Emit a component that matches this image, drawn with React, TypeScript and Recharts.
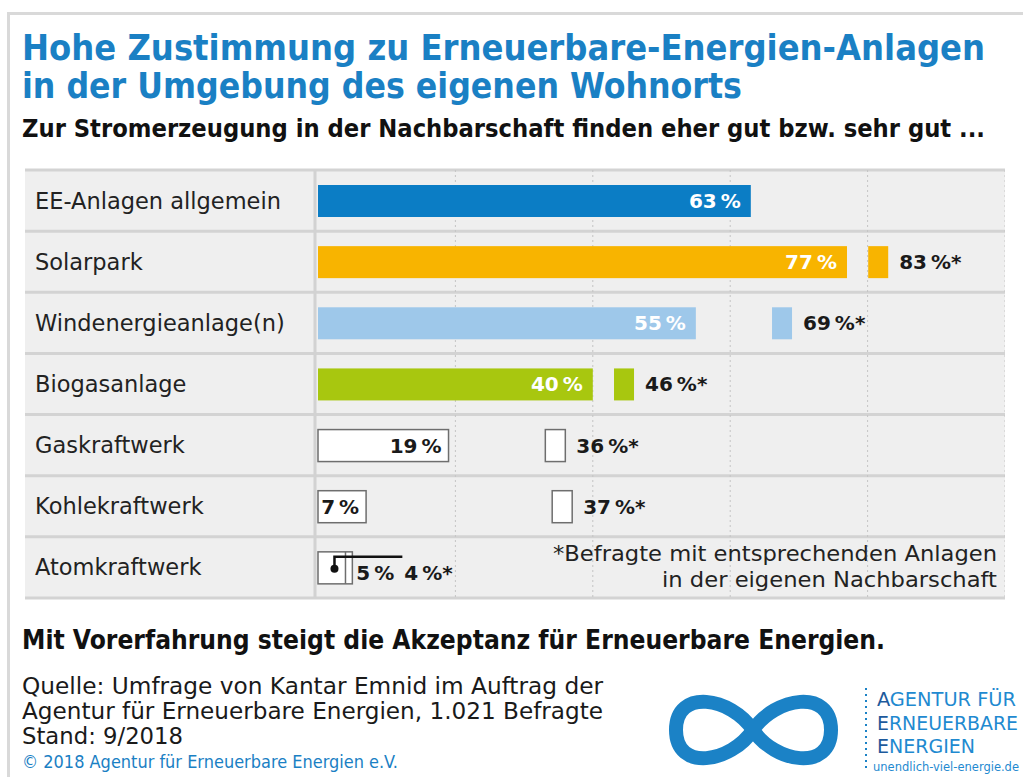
import React from 'react';
import { BarChart, Bar, XAxis, YAxis, CartesianGrid } from 'recharts';

const categories = [
  'EE-Anlagen allgemein',
  'Solarpark',
  'Windenergieanlage(n)',
  'Biogasanlage',
  'Gaskraftwerk',
  'Kohlekraftwerk',
  'Atomkraftwerk',
];
const allRespondents = [63, 77, 55, 40, 19, 7, 5];
const withFacilityNearby: (number | null)[] = [null, 83, 69, 46, 36, 37, 4];
const gridTicks = [20, 40, 60, 80];

const data = categories.map((name, i) => ({
  name,
  all: allRespondents[i],
  nearby: withFacilityNearby[i],
}));

const FILLS: Record<string, string> = {
  'EE-Anlagen allgemein': '#0b7dc5',
  Solarpark: '#f8b400',
  'Windenergieanlage(n)': '#9ec8ea',
  Biogasanlage: '#a8c70f',
};
const OUTLINED = new Set(['Gaskraftwerk', 'Kohlekraftwerk', 'Atomkraftwerk']);
const LEADER_ROW = 'Atomkraftwerk';

const LEFT = 25;
const TOP = 170;
const CHART_W = 980;
const CHART_H = 428;
const AXIS_W = 290;
const rowH = CHART_H / categories.length;

const NUM_FONT = "'DejaVu Sans', sans-serif";
const LABEL_FONT = "'DejaVu Sans', sans-serif";
const COND_FONT = "'Liberation Sans Narrow', 'DejaVu Sans Condensed', 'Roboto Condensed', Roboto, sans-serif";
const BLUE = '#1a80c4';
const SP = '\u2009';

const Tick = (props: any) => {
  const { y, payload } = props;
  return (
    <text x={10} y={y + 8} fontFamily={LABEL_FONT} fontSize={22.5} fill="#222" textAnchor="start">
      {payload.value}
    </text>
  );
};

const MainBar = (props: any) => {
  const { x, y, width, height, payload } = props;
  if (width == null || payload == null) return null;
  const name = payload.name;
  const outlined = OUTLINED.has(name);
  const cy = y + height / 2;
  const label = `${payload.all}${SP}%`;
  const inside = width > 40;
  return (
    <g>
      <rect
        x={x}
        y={y}
        width={width}
        height={height}
        fill={outlined ? '#ffffff' : FILLS[name]}
        stroke={outlined ? '#6e6e6e' : 'none'}
        strokeWidth={outlined ? 1.5 : 0}
      />
      {inside ? (
        <text
          x={x + width - (outlined ? 7 : 10)}
          y={cy + 7}
          textAnchor="end"
          fontFamily={NUM_FONT}
          fontWeight="bold"
          fontSize={20}
          fill={outlined ? '#1a1a1a' : '#ffffff'}
        >
          {label}
        </text>
      ) : (
        <text x={x + width + 4} y={cy + 12} textAnchor="start" fontFamily={NUM_FONT} fontWeight="bold" fontSize={20} fill="#1a1a1a">
          {label}
        </text>
      )}
    </g>
  );
};

const MarkerBar = (props: any) => {
  const { x, y, width, height, payload } = props;
  if (payload == null || payload.nearby == null || width == null) return null;
  const name = payload.name;
  const outlined = OUTLINED.has(name);
  const end = x + width;
  const cy = y + height / 2;
  const label = `${payload.nearby}${SP}%*`;
  if (name === LEADER_ROW) {
    const perUnit = width / payload.nearby;
    const mainEnd = x + perUnit * payload.all;
    const labelX = mainEnd + 52;
    const dotX = end - 11;
    return (
      <g>
        <line x1={end} x2={end} y1={y} y2={y + height} stroke="#6e6e6e" strokeWidth={1.5} />
        <path d={`M${dotX},${cy + 1} V${y + 5} H${labelX - 2}`} stroke="#111" strokeWidth={2.5} fill="none" />
        <circle cx={dotX} cy={cy + 1} r={4} fill="#111" />
        <text x={labelX} y={cy + 12} textAnchor="start" fontFamily={NUM_FONT} fontWeight="bold" fontSize={20} fill="#1a1a1a">
          {label}
        </text>
      </g>
    );
  }
  return (
    <g>
      <rect
        x={end - 20}
        y={y}
        width={20}
        height={height}
        fill={outlined ? '#ffffff' : FILLS[name]}
        stroke={outlined ? '#6e6e6e' : 'none'}
        strokeWidth={outlined ? 1.5 : 0}
      />
      <text x={end + 11} y={cy + 7} textAnchor="start" fontFamily={NUM_FONT} fontWeight="bold" fontSize={20} fill="#1a1a1a">
        {label}
      </text>
    </g>
  );
};

const separators = Array.from({ length: categories.length + 1 }, (_, i) => TOP + i * rowH);

export default function App() {
  return (
    <div style={{ position: 'absolute', left: 0, top: 0, width: 1023, height: 777, background: '#fff', overflow: 'hidden' }}>
      <svg width={1023} height={777} style={{ position: 'absolute', left: 0, top: 0 }}>
        <rect x={7} y={12} width={1016} height={3} fill="#d9d9d9" />
        <rect x={7} y={12} width={3} height={765} fill="#d9d9d9" />
        <rect x={LEFT} y={TOP} width={CHART_W} height={CHART_H} fill="#efefef" />
        {separators.map((sy, i) => (
          <line key={i} x1={LEFT} x2={LEFT + CHART_W} y1={sy} y2={sy} stroke="#d3d3d3" strokeWidth={3} />
        ))}
      </svg>
      <div style={{ position: 'absolute', left: LEFT, top: TOP }}>
        <BarChart
          layout="vertical"
          data={data}
          width={CHART_W}
          height={CHART_H}
          margin={{ top: 0, right: 0, bottom: 0, left: 0 }}
          barSize={32}
          barGap={-32}
        >
          <CartesianGrid horizontal={false} strokeDasharray="2 3" stroke="#c4c4c4" />
          <XAxis type="number" domain={[0, 100]} ticks={gridTicks} padding={{ left: 3, right: 0 }} hide />
          <YAxis
            type="category"
            dataKey="name"
            width={AXIS_W}
            axisLine={{ stroke: '#d2d2d2', strokeWidth: 3 }}
            tickLine={false}
            tick={<Tick />}
          />
          <Bar dataKey="all" shape={<MainBar />} isAnimationActive={false} />
          <Bar dataKey="nearby" shape={<MarkerBar />} isAnimationActive={false} />
        </BarChart>
      </div>
      <svg width={1023} height={777} style={{ position: 'absolute', left: 0, top: 0, pointerEvents: 'none' }}>
        <text x={22} y={60} fontFamily={COND_FONT} fontWeight="bold" fontSize={36} fill={BLUE} textLength={963} lengthAdjust="spacingAndGlyphs">
          Hohe Zustimmung zu Erneuerbare-Energien-Anlagen
        </text>
        <text x={22} y={98} fontFamily={COND_FONT} fontWeight="bold" fontSize={36} fill={BLUE} textLength={720} lengthAdjust="spacingAndGlyphs">
          in der Umgebung des eigenen Wohnorts
        </text>
        <text x={22} y={137} fontFamily={COND_FONT} fontWeight="bold" fontSize={25} fill="#111" textLength={963} lengthAdjust="spacingAndGlyphs">
          Zur Stromerzeugung in der Nachbarschaft finden eher gut bzw. sehr gut ...
        </text>

        <text x={997} y={561} textAnchor="end" fontFamily={LABEL_FONT} fontSize={21.5} fill="#222" textLength={444} lengthAdjust="spacingAndGlyphs">
          *Befragte mit entsprechenden Anlagen
        </text>
        <text x={997} y={587} textAnchor="end" fontFamily={LABEL_FONT} fontSize={21.5} fill="#222" textLength={335} lengthAdjust="spacingAndGlyphs">
          in der eigenen Nachbarschaft
        </text>

        <text x={22} y={649} fontFamily={COND_FONT} fontWeight="bold" fontSize={26} fill="#111" textLength={863} lengthAdjust="spacingAndGlyphs">
          Mit Vorerfahrung steigt die Akzeptanz für Erneuerbare Energien.
        </text>
        <text x={22} y={694} fontFamily={COND_FONT} fontSize={23} fill="#1a1a1a" textLength={581} lengthAdjust="spacingAndGlyphs">
          Quelle: Umfrage von Kantar Emnid im Auftrag der
        </text>
        <text x={22} y={719} fontFamily={COND_FONT} fontSize={23} fill="#1a1a1a" textLength={581} lengthAdjust="spacingAndGlyphs">
          Agentur für Erneuerbare Energien, 1.021 Befragte
        </text>
        <text x={22} y={744} fontFamily={COND_FONT} fontSize={23} fill="#1a1a1a" textLength={161} lengthAdjust="spacingAndGlyphs">
          Stand: 9/2018
        </text>
        <text x={22} y={768} fontFamily={COND_FONT} fontSize={17} fill={BLUE} textLength={376} lengthAdjust="spacingAndGlyphs">
          © 2018 Agentur für Erneuerbare Energien e.V.
        </text>

        <path
          d="M753,730 C731,697 676,688 676,730 C676,772 731,763 753,730 C775,697 831,688 831,730 C831,772 775,763 753,730 Z"
          fill="none"
          stroke="#1b82c6"
          strokeWidth={14}
          strokeLinejoin="round"
        />
        <line x1={866} x2={866} y1={688} y2={772} stroke="#1b82c6" strokeWidth={2} strokeDasharray="2 4" />
        <text x={877} y={706} fontFamily={COND_FONT} fontSize={20} fill="#1f8ad0" textLength={139} lengthAdjust="spacingAndGlyphs">
          <tspan fill="#1d5a9c">A</tspan>GENTUR FÜR
        </text>
        <text x={877} y={730} fontFamily={COND_FONT} fontSize={20} fill="#1f8ad0" textLength={141} lengthAdjust="spacingAndGlyphs">
          <tspan fill="#1d5a9c">E</tspan>RNEUERBARE
        </text>
        <text x={877} y={753} fontFamily={COND_FONT} fontSize={20} fill="#1f8ad0" textLength={98} lengthAdjust="spacingAndGlyphs">
          <tspan fill="#1d5a9c">E</tspan>NERGIEN
        </text>
        <text x={873} y={771} fontFamily={COND_FONT} fontSize={12} fill="#1f8ad0" textLength={146} lengthAdjust="spacingAndGlyphs">
          unendlich-viel-energie.de
        </text>
      </svg>
    </div>
  );
}
